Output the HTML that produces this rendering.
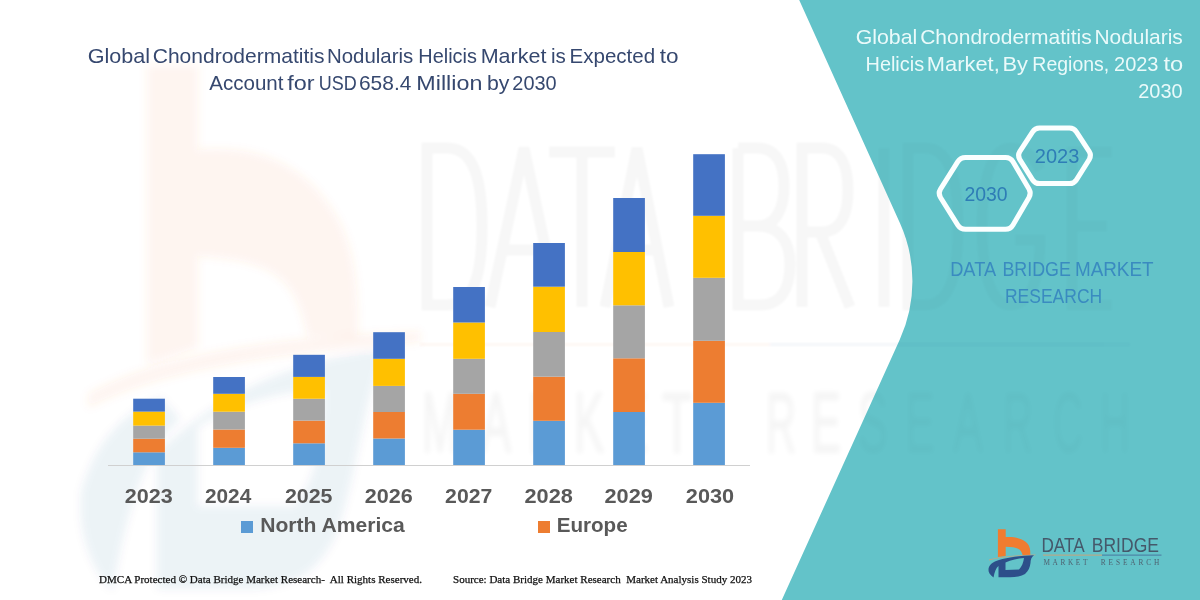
<!DOCTYPE html>
<html><head><meta charset="utf-8">
<style>
html,body{margin:0;padding:0;background:#fff;width:1200px;height:600px;overflow:hidden}
svg{display:block}
text{font-family:"Liberation Sans",sans-serif}
text.serif{font-family:"Liberation Serif",serif}
</style></head><body>
<svg width="1200" height="600" viewBox="0 0 1200 600">
<rect x="0" y="0" width="1200" height="600" fill="#ffffff"/>

<!-- faint watermark logo (left) -->
<defs>
  <filter id="blur2" x="-10%" y="-10%" width="120%" height="120%"><feGaussianBlur stdDeviation="2.5"/></filter>
  <filter id="blur4" x="-30%" y="-30%" width="160%" height="160%"><feGaussianBlur stdDeviation="4"/></filter>
  <filter id="blur05" x="-10%" y="-10%" width="120%" height="120%"><feGaussianBlur stdDeviation="0.5"/></filter>
  <filter id="blur1" x="-10%" y="-10%" width="120%" height="120%"><feGaussianBlur stdDeviation="1.2"/></filter>
</defs>
<g id="wm-logo" filter="url(#blur4)"><g transform="translate(147,65) scale(6.5,11) translate(-997.9,-529.3)">
  <path d="M997.9,529.3 L1005.7,529.3 L1005.7,537 C1014,536.5 1022,538 1027,543 C1030,546 1030.5,550 1030.3,554 L1022.6,554 C1021,549 1018,547 1005.7,546.7 L1005.7,555 L997.9,556.5 Z" fill="#f07c30" opacity="0.08"/>
  <path d="M988.8,559.2 C1000,555.5 1018,554 1040,553.5 L1040,554.5 C1018,555.5 1000,557 988.8,560.5 Z" fill="#f07c30" opacity="0.08"/>
  <g opacity="0.075" fill="#2d4f8a">
  <path fill-rule="evenodd" d="M999.4,564.6 C1010,558.5 1022,556 1034.7,555.1 C1031,560 1030.5,566 1027,572 C1024,575.5 1021,576.5 1015,576.9 L999.4,576.9 Z M1005.7,562.2 C1012,560 1018,559 1025,558.8 C1025,563 1024,567 1020.6,569.4 L1005.7,569.4 Z"/>
  <path d="M987.8,568 C990,563.5 994,561 1000,559.5 L1003,561.5 C998,564 995,569 992.6,577.1 C989,575 987.2,571.5 987.8,568 Z"/>
  </g>
</g></g>

<!-- big DATA BRIDGE watermark -->
<g id="wm-text" opacity="0.03" fill="none" stroke="#000" stroke-width="11" filter="url(#blur1)">
  <path d="M427,148 L447,148 C474,148 482,180 482,226 C482,275 474,305 447,305 L427,305 Z"/>
  <path d="M490,307 L524,148 L558,307 M502,250 L546,250"/>
  <path d="M549,152 L615,152 M582,152 L582,307"/>
  <path d="M605,307 L637,148 L669,307 M616,250 L658,250"/>
  <path d="M738,148 L738,305 L760,305 C780,305 790,290 790,264 C790,240 778,226 758,226 L738,226 M738,148 L757,148 C775,148 784,162 784,186 C784,210 775,226 758,226"/>
  <path d="M802,307 L802,148 L822,148 C840,148 848,165 848,190 C848,215 840,232 822,232 L802,232 M820,232 L850,307"/>
  <path d="M884,148 L884,307"/>
  <path d="M908,148 L925,148 C950,148 958,180 958,226 C958,275 950,305 925,305 L908,305 Z"/>
  <path d="M1040,170 C1032,152 1020,148 1010,148 C990,148 982,185 982,226 C982,270 990,305 1010,305 C1030,305 1040,280 1040,240 L1015,240"/>
  <path d="M1112,152 L1072,152 L1072,305 L1112,305 M1072,226 L1107,226"/>
</g>
<g id="wm-line" opacity="0.05" filter="url(#blur1)">
  <rect x="420" y="343" width="350" height="3" fill="#e07030"/>
  <rect x="770" y="343" width="360" height="3" fill="#3060a0"/>
</g>
<g id="wm-mr" opacity="0.035" fill="#000" stroke="#000" stroke-width="2.5" filter="url(#blur2)">
<text x="422.0" y="452" font-size="86" textLength="36" lengthAdjust="spacingAndGlyphs">M</text>
<text x="481.0" y="452" font-size="86" textLength="30" lengthAdjust="spacingAndGlyphs">A</text>
<text x="528.0" y="452" font-size="86" textLength="30" lengthAdjust="spacingAndGlyphs">R</text>
<text x="574.0" y="452" font-size="86" textLength="30" lengthAdjust="spacingAndGlyphs">K</text>
<text x="618.0" y="452" font-size="86" textLength="30" lengthAdjust="spacingAndGlyphs">E</text>
<text x="662.0" y="452" font-size="86" textLength="30" lengthAdjust="spacingAndGlyphs">T</text>
<text x="766.0" y="452" font-size="86" textLength="30" lengthAdjust="spacingAndGlyphs">R</text>
<text x="811.0" y="452" font-size="86" textLength="30" lengthAdjust="spacingAndGlyphs">E</text>
<text x="858.0" y="452" font-size="86" textLength="30" lengthAdjust="spacingAndGlyphs">S</text>
<text x="905.0" y="452" font-size="86" textLength="30" lengthAdjust="spacingAndGlyphs">E</text>
<text x="953.0" y="452" font-size="86" textLength="30" lengthAdjust="spacingAndGlyphs">A</text>
<text x="1003.0" y="452" font-size="86" textLength="30" lengthAdjust="spacingAndGlyphs">R</text>
<text x="1053.0" y="452" font-size="86" textLength="30" lengthAdjust="spacingAndGlyphs">C</text>
<text x="1100.0" y="452" font-size="86" textLength="30" lengthAdjust="spacingAndGlyphs">H</text>
</g>
<!-- teal panel -->
<path id="teal" d="M799.2,0 L899.9,223 A141,141 0 0 1 899.8,339.5 L781.8,600 L1200,600 L1200,0 Z" fill="#63c3c9"/>

<clipPath id="tealclip"><path d="M799.2,0 L899.9,223 A141,141 0 0 1 899.8,339.5 L781.8,600 L1200,600 L1200,0 Z"/></clipPath>
<g clip-path="url(#tealclip)"><use href="#wm-text" opacity="0.55"/><use href="#wm-line" opacity="0.8"/><use href="#wm-mr" opacity="0.45"/></g>




<!-- chart axis -->
<rect x="108" y="465" width="642" height="1" fill="#d0d0d0"/>

<!-- bars -->
<g id="bars">
<rect x="133.2" y="452.3" width="31.7" height="12.7" fill="#5b9bd5"/>
<rect x="133.2" y="438.7" width="31.7" height="13.6" fill="#ed7d31"/>
<rect x="133.2" y="425.6" width="31.7" height="13.1" fill="#a5a5a5"/>
<rect x="133.2" y="411.6" width="31.7" height="14.0" fill="#ffc000"/>
<rect x="133.2" y="398.7" width="31.7" height="12.9" fill="#4472c4"/>
<rect x="213.2" y="447.8" width="31.7" height="17.2" fill="#5b9bd5"/>
<rect x="213.2" y="429.5" width="31.7" height="18.3" fill="#ed7d31"/>
<rect x="213.2" y="411.7" width="31.7" height="17.8" fill="#a5a5a5"/>
<rect x="213.2" y="393.8" width="31.7" height="17.9" fill="#ffc000"/>
<rect x="213.2" y="377" width="31.7" height="16.8" fill="#4472c4"/>
<rect x="293.2" y="443.3" width="31.7" height="21.7" fill="#5b9bd5"/>
<rect x="293.2" y="420.6" width="31.7" height="22.7" fill="#ed7d31"/>
<rect x="293.2" y="398.75" width="31.7" height="21.85" fill="#a5a5a5"/>
<rect x="293.2" y="376.9" width="31.7" height="21.85" fill="#ffc000"/>
<rect x="293.2" y="354.8" width="31.7" height="22.1" fill="#4472c4"/>
<rect x="373.2" y="438.5" width="31.7" height="26.5" fill="#5b9bd5"/>
<rect x="373.2" y="412" width="31.7" height="26.5" fill="#ed7d31"/>
<rect x="373.2" y="385.9" width="31.7" height="26.1" fill="#a5a5a5"/>
<rect x="373.2" y="358.8" width="31.7" height="27.1" fill="#ffc000"/>
<rect x="373.2" y="332.2" width="31.7" height="26.6" fill="#4472c4"/>
<rect x="453.2" y="429.7" width="31.7" height="35.3" fill="#5b9bd5"/>
<rect x="453.2" y="393.8" width="31.7" height="35.9" fill="#ed7d31"/>
<rect x="453.2" y="358.8" width="31.7" height="35.0" fill="#a5a5a5"/>
<rect x="453.2" y="322.5" width="31.7" height="36.3" fill="#ffc000"/>
<rect x="453.2" y="287" width="31.7" height="35.5" fill="#4472c4"/>
<rect x="533.2" y="420.8" width="31.7" height="44.2" fill="#5b9bd5"/>
<rect x="533.2" y="376.7" width="31.7" height="44.1" fill="#ed7d31"/>
<rect x="533.2" y="332" width="31.7" height="44.7" fill="#a5a5a5"/>
<rect x="533.2" y="286.7" width="31.7" height="45.3" fill="#ffc000"/>
<rect x="533.2" y="243" width="31.7" height="43.7" fill="#4472c4"/>
<rect x="613.2" y="412" width="31.7" height="53" fill="#5b9bd5"/>
<rect x="613.2" y="358.3" width="31.7" height="53.7" fill="#ed7d31"/>
<rect x="613.2" y="305.3" width="31.7" height="53.0" fill="#a5a5a5"/>
<rect x="613.2" y="252" width="31.7" height="53.3" fill="#ffc000"/>
<rect x="613.2" y="198" width="31.7" height="54" fill="#4472c4"/>
<rect x="693.2" y="402.8" width="31.7" height="62.2" fill="#5b9bd5"/>
<rect x="693.2" y="340.8" width="31.7" height="62.0" fill="#ed7d31"/>
<rect x="693.2" y="277.8" width="31.7" height="63.0" fill="#a5a5a5"/>
<rect x="693.2" y="215.8" width="31.7" height="62.0" fill="#ffc000"/>
<rect x="693.2" y="154.2" width="31.7" height="61.6" fill="#4472c4"/>
</g>

<!-- title -->
<!--GEN:title--><g fill="#36486f" font-size="20.6"><text x="87.70" y="62.8" textLength="62.39" lengthAdjust="spacingAndGlyphs" xml:space="preserve">Global</text><text x="152.73" y="62.8" textLength="171.80" lengthAdjust="spacingAndGlyphs" xml:space="preserve">Chondrodermatitis</text><text x="327.02" y="62.8" textLength="86.23" lengthAdjust="spacingAndGlyphs" xml:space="preserve">Nodularis</text><text x="418.31" y="62.8" textLength="58.57" lengthAdjust="spacingAndGlyphs" xml:space="preserve">Helicis</text><text x="480.67" y="62.8" textLength="65.79" lengthAdjust="spacingAndGlyphs" xml:space="preserve">Market</text><text x="551.00" y="62.8" textLength="14.88" lengthAdjust="spacingAndGlyphs" xml:space="preserve">is</text><text x="569.51" y="62.8" textLength="85.62" lengthAdjust="spacingAndGlyphs" xml:space="preserve">Expected</text><text x="659.73" y="62.8" textLength="18.80" lengthAdjust="spacingAndGlyphs" xml:space="preserve">to</text><text x="209.20" y="89.7" textLength="74.27" lengthAdjust="spacingAndGlyphs" xml:space="preserve">Account</text><text x="287.22" y="89.7" textLength="27.32" lengthAdjust="spacingAndGlyphs" xml:space="preserve">for</text><text x="318.69" y="89.7" textLength="37.97" lengthAdjust="spacingAndGlyphs" xml:space="preserve">USD</text><text x="358.98" y="89.7" textLength="52.37" lengthAdjust="spacingAndGlyphs" xml:space="preserve">658.4</text><text x="416.32" y="89.7" textLength="66.04" lengthAdjust="spacingAndGlyphs" xml:space="preserve">Million</text><text x="487.01" y="89.7" textLength="22.46" lengthAdjust="spacingAndGlyphs" xml:space="preserve">by</text><text x="512.33" y="89.7" textLength="44.27" lengthAdjust="spacingAndGlyphs" xml:space="preserve">2030</text></g><!--/GEN:title-->

<!-- x labels -->
<!--GEN:xl--><g fill="#595959" font-size="20" font-weight="bold"><text x="124.89" y="502.7" textLength="47.92" lengthAdjust="spacingAndGlyphs" xml:space="preserve">2023</text><text x="204.92" y="502.7" textLength="46.38" lengthAdjust="spacingAndGlyphs" xml:space="preserve">2024</text><text x="284.90" y="502.7" textLength="47.64" lengthAdjust="spacingAndGlyphs" xml:space="preserve">2025</text><text x="364.89" y="502.7" textLength="47.92" lengthAdjust="spacingAndGlyphs" xml:space="preserve">2026</text><text x="445.11" y="502.7" textLength="47.15" lengthAdjust="spacingAndGlyphs" xml:space="preserve">2027</text><text x="524.49" y="502.7" textLength="48.33" lengthAdjust="spacingAndGlyphs" xml:space="preserve">2028</text><text x="604.49" y="502.7" textLength="48.33" lengthAdjust="spacingAndGlyphs" xml:space="preserve">2029</text><text x="685.89" y="502.7" textLength="48.23" lengthAdjust="spacingAndGlyphs" xml:space="preserve">2030</text></g><!--/GEN:xl-->

<!-- legend -->
<rect x="241" y="521" width="12" height="12" fill="#5b9bd5"/>
<!--GEN:leg1--><g fill="#595959" font-size="20" font-weight="bold"><text x="260.18" y="532.3" textLength="144.64" lengthAdjust="spacingAndGlyphs" xml:space="preserve">North America</text></g><!--/GEN:leg1-->
<rect x="538" y="521" width="12" height="12" fill="#ed7d31"/>
<!--GEN:leg2--><g fill="#595959" font-size="20" font-weight="bold"><text x="556.71" y="532.3" textLength="70.96" lengthAdjust="spacingAndGlyphs" xml:space="preserve">Europe</text></g><!--/GEN:leg2-->

<!-- footer -->
<text class="serif" x="99" y="583" fill="#111" stroke="#111" stroke-width="0.25" xml:space="preserve" font-size="11" textLength="323" lengthAdjust="spacingAndGlyphs" style="font-family:'Liberation Serif',serif">DMCA Protected © Data Bridge Market Research-  All Rights Reserved.</text>
<text class="serif" x="453" y="583" fill="#111" stroke="#111" stroke-width="0.25" xml:space="preserve" font-size="11" textLength="299" lengthAdjust="spacingAndGlyphs" style="font-family:'Liberation Serif',serif">Source: Data Bridge Market Research  Market Analysis Study 2023</text>

<!-- right header -->
<!--GEN:rh--><g fill="#eafafa" font-size="20.6"><text x="855.66" y="43.8" textLength="61.66" lengthAdjust="spacingAndGlyphs" xml:space="preserve">Global</text><text x="920.18" y="43.8" textLength="171.60" lengthAdjust="spacingAndGlyphs" xml:space="preserve">Chondrodermatitis</text><text x="1094.42" y="43.8" textLength="88.44" lengthAdjust="spacingAndGlyphs" xml:space="preserve">Nodularis</text><text x="865.51" y="71" textLength="58.63" lengthAdjust="spacingAndGlyphs" xml:space="preserve">Helicis</text><text x="926.84" y="71" textLength="72.90" lengthAdjust="spacingAndGlyphs" xml:space="preserve">Market,</text><text x="1002.54" y="71" textLength="25.51" lengthAdjust="spacingAndGlyphs" xml:space="preserve">By</text><text x="1032.35" y="71" textLength="76.84" lengthAdjust="spacingAndGlyphs" xml:space="preserve">Regions,</text><text x="1114.03" y="71" textLength="44.47" lengthAdjust="spacingAndGlyphs" xml:space="preserve">2023</text><text x="1163.41" y="71" textLength="19.77" lengthAdjust="spacingAndGlyphs" xml:space="preserve">to</text><text x="1138.23" y="97.5" textLength="44.37" lengthAdjust="spacingAndGlyphs" xml:space="preserve">2030</text></g><!--/GEN:rh-->

<!-- hexagons -->
<g fill="none" stroke="#fbffff" stroke-width="5" stroke-linejoin="round" filter="url(#blur05)">
  <path d="M940.5,197.5 Q937.8,193.3 940.5,189.1 L957.8,161.7 Q960.5,157.5 965.5,157.5 L1005.5,157.5 Q1010.5,157.5 1013.0,161.8 L1029.0,189.0 Q1031.5,193.3 1029.0,197.6 L1013.0,225.0 Q1010.5,229.3 1005.5,229.3 L965.5,229.3 Q960.5,229.3 957.8,225.1 Z"/>
  <path d="M1019.7,159.3 Q1017.3,155.5 1019.7,151.7 L1032.6,131.9 Q1035.0,128.1 1039.5,128.1 L1069.5,128.1 Q1074.0,128.1 1076.4,131.9 L1089.3,151.7 Q1091.7,155.5 1089.3,159.3 L1076.4,179.8 Q1074.0,183.6 1069.5,183.6 L1039.5,183.6 Q1035.0,183.6 1032.6,179.8 Z"/>
</g>
<!--GEN:hex--><g fill="#2e7db6" font-size="19.5"><text x="964.40" y="200.8" textLength="43.23" lengthAdjust="spacingAndGlyphs" xml:space="preserve">2030</text><text x="1034.77" y="162.6" textLength="44.54" lengthAdjust="spacingAndGlyphs" xml:space="preserve">2023</text></g><!--/GEN:hex-->

<!-- DATA BRIDGE MARKET RESEARCH -->
<!--GEN:dbmr--><g fill="#3a8bc0" font-size="20.8"><text x="950.16" y="275.7" textLength="45.96" lengthAdjust="spacingAndGlyphs" xml:space="preserve">DATA</text><text x="1002.40" y="275.7" textLength="68.46" lengthAdjust="spacingAndGlyphs" xml:space="preserve">BRIDGE</text><text x="1074.91" y="275.7" textLength="78.67" lengthAdjust="spacingAndGlyphs" xml:space="preserve">MARKET</text><text x="1004.93" y="302.6" textLength="97.29" lengthAdjust="spacingAndGlyphs" xml:space="preserve">RESEARCH</text></g><!--/GEN:dbmr-->

<!-- logo bottom right -->
<g id="logo">
  <path d="M997.9,529.3 L1005.7,529.3 L1005.7,537 C1014,536.5 1022,538 1027,543 C1030,546 1030.5,550 1030.3,555 L1022.6,555 C1021,549 1018,547 1005.7,546.7 L1005.7,556 L997.9,557 Z" fill="#f07c30"/>
  <path d="M989,559.6 C1000,556.3 1018,555 1035.5,554.5 L1035.5,555.3 C1018,555.6 1000,557.2 989,560.6 Z" fill="#d9a070" opacity="0.8"/>
  <path fill-rule="evenodd" d="M993.5,577.5 C990,575 988,572 988.5,569 C989,565 993,561.5 999,560 C1008,557.5 1020,555.8 1034,555.3 C1031.5,557 1030.5,560 1030.5,563 C1030,567 1028.5,571 1025,574 C1021,576.5 1016,577.2 1010,577.3 L998.5,577.3 L998.5,566 C996,568 994.5,572 993.5,577.5 Z M1005.5,562.5 C1011,560 1018,558.5 1024,558 C1023.5,562 1022,566.5 1019,569.5 L1005.5,570 Z" fill="#2d4f8a"/>
  <!--GEN:logo--><g fill="#45586a" font-size="20.3"><text x="1041.42" y="551.7" textLength="43.25" lengthAdjust="spacingAndGlyphs" xml:space="preserve">DATA</text><text x="1091.79" y="551.7" textLength="67.17" lengthAdjust="spacingAndGlyphs" xml:space="preserve">BRIDGE</text></g><!--/GEN:logo-->
  <rect x="1043" y="554.6" width="59" height="1" fill="#c9a27a"/>
  <rect x="1102" y="554.6" width="59.5" height="1" fill="#4a78a0"/>
  <g fill="#4f6270" font-size="7.3"><text class="serif" x="1043.4" y="564.9" textLength="44" lengthAdjust="spacing">MARKET</text><text class="serif" x="1100.8" y="564.9" textLength="58.6" lengthAdjust="spacing">RESEARCH</text></g>
</g>
</svg>
</body></html>
